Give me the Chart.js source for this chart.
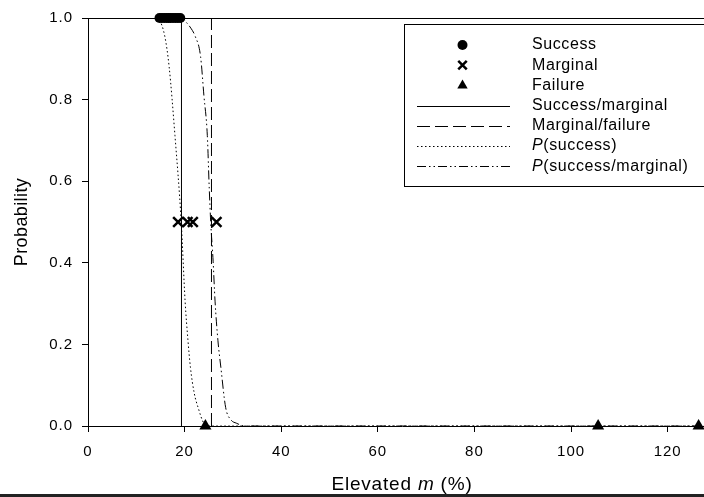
<!DOCTYPE html>
<html>
<head>
<meta charset="utf-8">
<script src="https://cdn.jsdelivr.net/npm/chart.js@4.4.1/dist/chart.umd.min.js"></script>
<style>
    html, body { margin: 0; padding: 0; background: #fff; overflow: hidden; }
    #wrap { position: relative; width: 704px; height: 497px; overflow: hidden; }
    #prob-chart { display: block; }
    #bottom-rule { position: absolute; left: 0; top: 494px; width: 704px; height: 3px; background: #222; }
</style>
</head>
<body>
<div id="wrap">
    <canvas id="prob-chart" width="730" height="497"></canvas>
    <div id="bottom-rule"></div>
</div>
<script>
// observations
const successX  = [14.8, 15.3, 15.8, 16.3, 16.7, 17.1, 17.6, 18.1, 18.6, 19.1]
const successY  = [1, 1, 1, 1, 1, 1, 1, 1, 1, 1]
const marginalX = [18.65, 20.6, 21.7, 26.6]
const marginalY = [0.5, 0.5, 0.5, 0.5]
const failureX  = [24.3, 105.6, 126.4]
const failureY  = [0, 0, 0]

// thresholds
const cutX      = [19.35, 25.56]

// fitted curves
const pSuccessX = [0, 13.5, 14.7, 15.9, 16.8, 18.0, 19.3, 20.1, 20.7, 21.2, 22.0, 22.8, 24.0, 25.5, 130]
const pSuccessY = [1, 1, 0.995, 0.955, 0.88, 0.712, 0.5, 0.306, 0.209, 0.144, 0.08, 0.045, 0.007, 0, 0]
const pSuccMargX = [0, 19.5, 20.3, 21.3, 22.2, 23.3, 24.0, 24.7, 25.1, 25.4, 25.9, 26.3, 26.9, 27.5, 28.5, 29.6, 30.7, 32.5, 130]
const pSuccMargY = [1, 1, 0.99, 0.975, 0.955, 0.906, 0.809, 0.712, 0.582, 0.5, 0.404, 0.306, 0.209, 0.144, 0.045, 0.015, 0.007, 0, 0]

const xTicksStep = 20
const yTicksStep = 0.2

const FONT = '"Liberation Sans", Arial, sans-serif'

function pairs(xs, ys) {
    return xs.map((x, i) => ({ x: x, y: ys[i] }))
}

Chart.defaults.font.family = FONT
Chart.defaults.color = '#000'

// legend box, drawn from the datasets themselves
const boxLegend = {
    id: 'boxLegend',
    afterDatasetsDraw(chart) {
        const ctx = chart.ctx
        ctx.save()
        ctx.letterSpacing = '0.6px'
        ctx.fillStyle = '#fff'
        ctx.fillRect(404, 24, 330, 162)
        ctx.strokeStyle = '#000'
        ctx.lineWidth = 1
        ctx.setLineDash([])
        ctx.strokeRect(404.5, 24.5, 330, 162)

        chart.data.datasets.forEach((ds, i) => {
            const y = 45 + i * 20.2
            ctx.save()
            ctx.fillStyle = '#000'
            ctx.strokeStyle = '#000'
            if (ds.showLine) {
                ctx.lineWidth = 1
                ctx.setLineDash(ds.borderDash || [])
                ctx.beginPath()
                ctx.moveTo(417, Math.round(y) + 0.5)
                ctx.lineTo(510, Math.round(y) + 0.5)
                ctx.stroke()
            } else {
                ctx.lineWidth = ds.borderWidth
                Chart.helpers.drawPoint(ctx, {
                    pointStyle: ds.pointStyle,
                    radius: ds.legendRadius,
                    borderWidth: ds.borderWidth,
                    rotation: 0
                }, 462.5, y)
            }
            ctx.restore()

            ctx.fillStyle = '#000'
            ctx.textBaseline = 'middle'
            ctx.textAlign = 'left'
            let x = 532
            let text = ds.label
            if (text.startsWith('P(')) {
                ctx.font = 'italic 16px ' + FONT
                ctx.fillText('P', x, y)
                x += ctx.measureText('P').width
                text = text.slice(1)
            }
            ctx.font = '16px ' + FONT
            ctx.fillText(text, x, y)
        })
        ctx.restore()
    }
}

// frame top line, axis titles
const frameAndTitles = {
    id: 'frameAndTitles',
    beforeDraw(chart) {
        chart.ctx.letterSpacing = '1px'
    },
    afterDraw(chart) {
        const ctx  = chart.ctx
        const area = chart.chartArea
        const top  = Math.round(chart.scales.y.getPixelForValue(1)) + 0.5
        ctx.save()
        ctx.strokeStyle = '#000'
        ctx.lineWidth = 1
        ctx.setLineDash([])
        ctx.beginPath()
        ctx.moveTo(area.left, top)
        ctx.lineTo(area.right, top)
        ctx.stroke()

        // x title with italic m
        ctx.letterSpacing = '0.8px'
        ctx.fillStyle = '#000'
        ctx.textBaseline = 'alphabetic'
        ctx.textAlign = 'left'
        const parts = [['Elevated ', false], ['m', true], [' (%)', false]]
        let total = 0
        parts.forEach(p => {
            ctx.font = (p[1] ? 'italic ' : '') + '19px ' + FONT
            total += ctx.measureText(p[0]).width
        })
        let x = (area.left + area.right) / 2 - total / 2
        parts.forEach(p => {
            ctx.font = (p[1] ? 'italic ' : '') + '19px ' + FONT
            ctx.fillText(p[0], x, 490)
            x += ctx.measureText(p[0]).width
        })

        // y title
        ctx.letterSpacing = '0.4px'
        ctx.font = '18px ' + FONT
        ctx.textAlign = 'center'
        ctx.translate(27, (area.top + area.bottom) / 2)
        ctx.rotate(-Math.PI / 2)
        ctx.fillText('Probability', 0, 0)
        ctx.restore()
    }
}

const context = document.getElementById('prob-chart')
const chart   = new Chart(context, {
    type: 'scatter',
    data: {
        datasets: [
            {
                label: 'Success',
                data: pairs(successX, successY),
                pointStyle: 'circle',
                pointRadius: 5,
                legendRadius: 5,
                borderWidth: 0,
                backgroundColor: '#000',
                borderColor: '#000',
                showLine: false,
                clip: false
            },
            {
                label: 'Marginal',
                data: pairs(marginalX, marginalY),
                pointStyle: 'crossRot',
                pointRadius: 7,
                legendRadius: 6,
                borderWidth: 2.5,
                backgroundColor: '#000',
                borderColor: '#000',
                showLine: false,
                clip: false
            },
            {
                label: 'Failure',
                data: pairs(failureX, failureY),
                pointStyle: 'triangle',
                pointRadius: 7,
                legendRadius: 6,
                borderWidth: 0,
                backgroundColor: '#000',
                borderColor: '#000',
                showLine: false,
                clip: false
            },
            {
                label: 'Success/marginal',
                data: [{ x: cutX[0], y: 0 }, { x: cutX[0], y: 1 }],
                showLine: true,
                borderColor: '#000',
                borderWidth: 1,
                pointRadius: 0
            },
            {
                label: 'Marginal/failure',
                data: [{ x: cutX[1], y: 0 }, { x: cutX[1], y: 1 }],
                showLine: true,
                borderColor: '#000',
                borderWidth: 1,
                borderDash: [13, 5],
                pointRadius: 0
            },
            {
                label: 'P(success)',
                data: pairs(pSuccessX, pSuccessY),
                showLine: true,
                borderColor: '#000',
                borderWidth: 1,
                borderDash: [1.5, 2.5],
                cubicInterpolationMode: 'monotone',
                pointRadius: 0
            },
            {
                label: 'P(success/marginal)',
                data: pairs(pSuccMargX, pSuccMargY),
                showLine: true,
                borderColor: '#000',
                borderWidth: 1,
                borderDash: [9, 3, 1.5, 3, 1.5, 3],
                cubicInterpolationMode: 'monotone',
                pointRadius: 0
            }
        ]
    },
    options: {
        responsive: false,
        animation: false,
        layout: { padding: { top: 14, right: 14, left: 0, bottom: 0 } },
        plugins: {
            legend: { display: false },
            tooltip: { enabled: false }
        },
        scales: {
            x: {
                type: 'linear',
                min: 0,
                max: 130,
                afterFit: scale => { scale.height = 71 },
                ticks: {
                    stepSize: xTicksStep,
                    includeBounds: false,
                    maxRotation: 0,
                    padding: 11,
                    color: '#000',
                    font: { size: 15 }
                },
                grid: { drawOnChartArea: false, tickLength: 6, color: '#000' },
                border: { color: '#000', width: 1 }
            },
            y: {
                type: 'linear',
                min: 0,
                max: 1,
                afterFit: scale => { scale.width = 88 },
                ticks: {
                    stepSize: yTicksStep,
                    padding: 9,
                    color: '#000',
                    font: { size: 15 },
                    callback: v => v.toFixed(1)
                },
                grid: { drawOnChartArea: false, tickLength: 6, color: '#000' },
                border: { color: '#000', width: 1 }
            }
        }
    },
    plugins: [boxLegend, frameAndTitles]
})
</script>
</body>
</html>
